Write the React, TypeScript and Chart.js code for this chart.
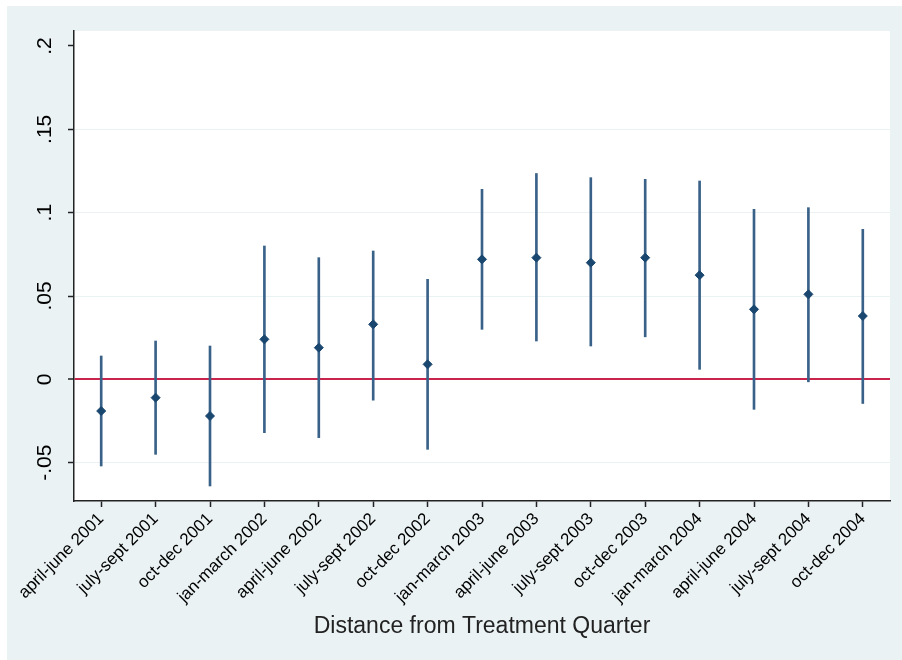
import React, { useEffect, useRef } from "react";
import { Chart, registerables } from "chart.js";

Chart.register(...registerables);

const categories = [
  "april-june 2001",
  "july-sept 2001",
  "oct-dec 2001",
  "jan-march 2002",
  "april-june 2002",
  "july-sept 2002",
  "oct-dec 2002",
  "jan-march 2003",
  "april-june 2003",
  "july-sept 2003",
  "oct-dec 2003",
  "jan-march 2004",
  "april-june 2004",
  "july-sept 2004",
  "oct-dec 2004",
];

const estimates = [-0.019, -0.011, -0.022, 0.024, 0.019, 0.033, 0.009, 0.072, 0.073, 0.070, 0.073, 0.0625, 0.042, 0.051, 0.038];
const upperCI = [0.014, 0.023, 0.020, 0.080, 0.073, 0.077, 0.060, 0.114, 0.1235, 0.121, 0.120, 0.119, 0.102, 0.103, 0.090];
const lowerCI = [-0.052, -0.045, -0.064, -0.032, -0.035, -0.0125, -0.042, 0.030, 0.023, 0.020, 0.0255, 0.006, -0.018, -0.0015, -0.0145];

const yTickValues = [-0.05, 0, 0.05, 0.1, 0.15, 0.2];
const yTickLabels = ["-.05", "0", ".05", ".1", ".15", ".2"];

const FONT = "'Liberation Sans', Arial, Helvetica, sans-serif";
const GRAPH_BG = "#eaf2f3";
const NAVY = "#1a476f";
const BAR = "#3a6289";
const RED = "#c8244c";
const AXIS = "#222222";

const bgPlugin = {
  id: "stataBg",
  beforeDraw(chart: any) {
    const { ctx, chartArea } = chart;
    ctx.save();
    ctx.fillStyle = "#ffffff";
    ctx.fillRect(0, 0, chart.width, chart.height);
    ctx.fillStyle = GRAPH_BG;
    ctx.fillRect(7, 6, chart.width - 7, chart.height - 6);
    ctx.fillStyle = "#ffffff";
    ctx.fillRect(chartArea.left, chartArea.top, chartArea.right - chartArea.left, chartArea.bottom - chartArea.top);
    ctx.restore();
  },
};

export default function App() {
  const ref = useRef<HTMLCanvasElement | null>(null);

  useEffect(() => {
    document.body.style.margin = "0";
    document.body.style.overflow = "hidden";
    const canvas = ref.current;
    if (!canvas) return;
    const chart = new Chart(canvas, {
      type: "bar",
      data: {
        labels: categories,
        datasets: [
          {
            type: "line",
            label: "Estimate",
            data: estimates,
            showLine: false,
            pointStyle: "rectRot",
            pointRadius: 4.5,
            pointBackgroundColor: NAVY,
            pointBorderColor: NAVY,
            pointBorderWidth: 1,
            order: 0,
          } as any,
          {
            type: "bar",
            label: "CI",
            data: lowerCI.map((lo, i) => [lo, upperCI[i]]),
            backgroundColor: BAR,
            borderWidth: 0,
            barThickness: 2,
            order: 1,
          } as any,
        ],
      },
      options: {
        animation: false,
        responsive: false,
        maintainAspectRatio: false,
        layout: { padding: { left: 7, top: 31, right: 12, bottom: 0 } },
        plugins: {
          legend: { display: false },
          tooltip: { enabled: false },
        },
        scales: {
          x: {
            type: "category",
            offset: true,
            grid: {
              display: true,
              drawOnChartArea: false,
              drawTicks: true,
              tickLength: 6,
              tickColor: AXIS,
              tickWidth: 1.5,
              offset: false,
            },
            border: { display: true, color: AXIS, width: 1.5 },
            ticks: {
              autoSkip: false,
              minRotation: 45,
              maxRotation: 45,
              padding: 2,
              color: "#000000",
              font: { family: FONT, size: 17 },
            },
            title: {
              display: true,
              text: "Distance from Treatment Quarter",
              color: "#222222",
              font: { family: FONT, size: 23 },
              padding: { top: 0, bottom: 20 },
            },
            afterFit(scale: any) {
              scale.height = 159;
            },
          },
          y: {
            type: "linear",
            min: -0.073,
            max: 0.209,
            afterBuildTicks(scale: any) {
              scale.ticks = yTickValues.map((v) => ({ value: v }));
            },
            grid: {
              color: (ctx: any) => {
                const v = ctx.tick ? ctx.tick.value : null;
                if (v === 0) return RED;
                if (v === 0.2) return "rgba(0,0,0,0)";
                return GRAPH_BG;
              },
              lineWidth: (ctx: any) => (ctx.tick && ctx.tick.value === 0 ? 2 : 1),
              tickColor: AXIS,
              tickWidth: 1.5,
              tickLength: 6,
              drawTicks: true,
            },
            border: { display: true, color: AXIS, width: 1.5 },
            ticks: {
              includeBounds: false,
              minRotation: 90,
              maxRotation: 90,
              crossAlign: "center",
              padding: 5,
              color: "#000000",
              font: { family: FONT, size: 21 },
              callback: (value: any) => {
                const idx = yTickValues.findIndex((v) => Math.abs(v - Number(value)) < 1e-9);
                return idx >= 0 ? yTickLabels[idx] : "";
              },
            },
            afterFit(scale: any) {
              scale.width = 67;
            },
          },
        },
      },
      plugins: [bgPlugin],
    });
    return () => chart.destroy();
  }, []);

  return (
    <div style={{ width: 902, height: 660, position: "relative" }}>
      <canvas ref={ref} width={902} height={660} style={{ display: "block" }} />
    </div>
  );
}
